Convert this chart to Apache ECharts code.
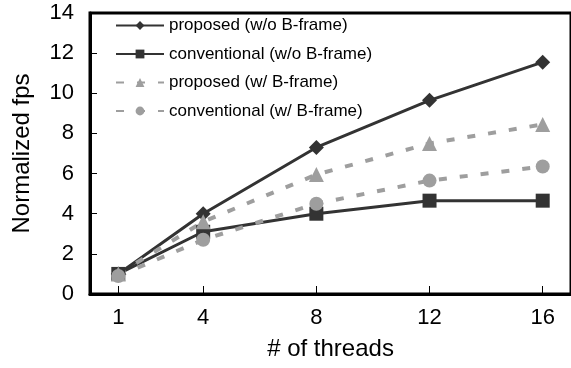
<!DOCTYPE html>
<html>
<head>
<meta charset="utf-8">
<script src="https://cdn.jsdelivr.net/npm/echarts@6/dist/echarts.min.js"></script>
<style>
  html, body { margin: 0; padding: 0; background: #fff; }
  #chart { width: 571px; height: 368px; }
</style>
</head>
<body>
<div id="chart"></div>
<script>
const threads = [1, 4, 8, 12, 16];
const proposedNoB = [1.0, 4.0, 7.3, 9.65, 11.55];
const conventionalNoB = [1.0, 3.1, 4.0, 4.65, 4.65];
const proposedB = [1.0, 3.6, 5.95, 7.5, 8.45];
const conventionalB = [0.9, 2.7, 4.5, 5.65, 6.35];
const yTicks = [0, 2, 4, 6, 8, 10, 12, 14];

const dark = '#333333';
const gray = '#9e9e9e';
const font = 'Arial, "Liberation Sans", sans-serif';

const pairs = (ys) => threads.map((x, i) => [x, ys[i]]);

const chart = echarts.init(document.getElementById('chart'));

chart.setOption({
  animation: false,
  textStyle: { fontFamily: font, color: '#000' },
  grid: {
    left: 90,
    top: 13,
    bottom: 74,
    right: -3.5,
    show: true,
    borderColor: '#000',
    borderWidth: 3,
  },
  legend: {
    orient: 'vertical',
    left: 110,
    top: 12,
    itemWidth: 48,
    itemHeight: 11,
    itemGap: 11.5,
    textStyle: { fontSize: 17, color: '#000', fontFamily: font },
    data: [
      'proposed (w/o B-frame)',
      'conventional (w/o B-frame)',
      'proposed (w/ B-frame)',
      'conventional (w/ B-frame)',
    ],
  },
  xAxis: {
    type: 'value',
    min: 0,
    max: 17,
    name: '# of threads',
    nameLocation: 'middle',
    nameGap: 43,
    nameTextStyle: { fontSize: 24, color: '#000', fontFamily: font },
    axisLine: { lineStyle: { color: '#000', width: 3 } },
    axisTick: { inside: true, length: 8, customValues: threads, lineStyle: { color: '#000', width: 1 } },
    axisLabel: { customValues: threads, fontSize: 22, color: '#000', margin: 13 },
    splitLine: { show: false },
  },
  yAxis: {
    type: 'value',
    min: 0,
    max: 14,
    interval: 2,
    name: 'Normalized fps',
    nameLocation: 'middle',
    nameGap: 56,
    nameTextStyle: { fontSize: 24, color: '#000', fontFamily: font },
    axisLine: { show: true, lineStyle: { color: '#000', width: 3 } },
    axisTick: { show: true, inside: true, length: 7, customValues: yTicks, lineStyle: { color: '#000', width: 1 } },
    axisLabel: { fontSize: 22, color: '#000', margin: 16 },
    splitLine: { show: false },
  },
  series: [
    {
      name: 'proposed (w/o B-frame)',
      type: 'line',
      data: pairs(proposedNoB),
      symbol: 'diamond',
      symbolSize: 15,
      lineStyle: { color: dark, width: 3 },
      itemStyle: { color: dark },
    },
    {
      name: 'conventional (w/o B-frame)',
      type: 'line',
      data: pairs(conventionalNoB),
      symbol: 'rect',
      symbolSize: 14,
      lineStyle: { color: dark, width: 3 },
      itemStyle: { color: dark },
    },
    {
      name: 'proposed (w/ B-frame)',
      type: 'line',
      data: pairs(proposedB),
      symbol: 'triangle',
      symbolSize: 15,
      lineStyle: { color: gray, width: 4, type: [8, 13] },
      itemStyle: { color: gray },
    },
    {
      name: 'conventional (w/ B-frame)',
      type: 'line',
      data: pairs(conventionalB),
      symbol: 'circle',
      symbolSize: 14,
      lineStyle: { color: gray, width: 4, type: [8, 13] },
      itemStyle: { color: gray },
    },
  ],
});
</script>
</body>
</html>
